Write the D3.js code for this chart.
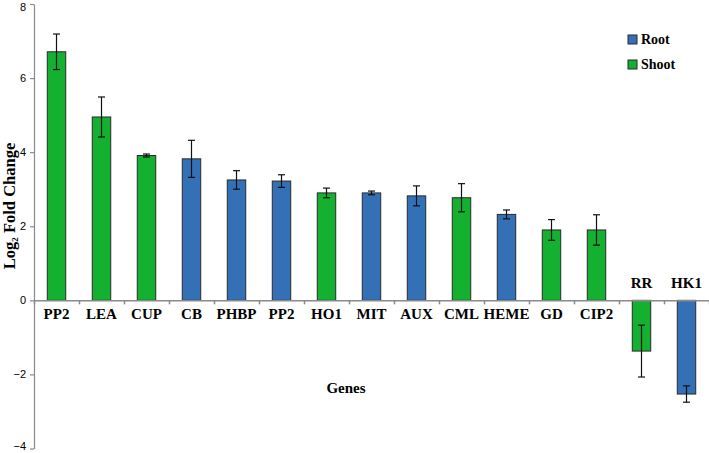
<!DOCTYPE html>
<html>
<head>
<meta charset="utf-8">
<script src="https://cdn.jsdelivr.net/npm/d3@7"></script>
<style>
  body { margin: 0; background: #fff; }
  svg { display: block; }
</style>
</head>
<body>
<svg id="chart" width="709" height="453"></svg>
<script>
// gene data
const genes = ['PP2', 'LEA', 'CUP', 'CB', 'PHBP', 'PP2', 'HO1', 'MIT', 'AUX', 'CML', 'HEME', 'GD', 'CIP2', 'RR', 'HK1'];
const tissue = ['Shoot', 'Shoot', 'Shoot', 'Root', 'Root', 'Root', 'Shoot', 'Root', 'Root', 'Shoot', 'Root', 'Shoot', 'Shoot', 'Shoot', 'Root'];
const foldChange = [6.71, 4.95, 3.91, 3.82, 3.25, 3.22, 2.90, 2.90, 2.82, 2.77, 2.32, 1.90, 1.90, -1.37, -2.53];
const errors = [0.48, 0.54, 0.04, 0.50, 0.25, 0.17, 0.13, 0.05, 0.27, 0.38, 0.12, 0.28, 0.41, 0.70, 0.22];
const yTicks = [-4, -2, 0, 2, 4, 6, 8];
const legendItems = ['Root', 'Shoot'];

const colors = { Root: '#3470b6', Shoot: '#13b12f' };
const serif = '"Liberation Serif", "Times New Roman", serif';

const svg = d3.select('#chart');

const x = d3.scaleBand()
  .domain(d3.range(genes.length))
  .range([34, 709])
  .paddingInner(0.59)
  .paddingOuter(0.295);

const xEdges = d3.scaleLinear()
  .domain([0, genes.length])
  .range([34, 709]);

const y = d3.scaleLinear()
  .domain([-4, 8])
  .range([448.5, 4]);

// y axis
const yAxis = svg.append('g')
  .attr('transform', 'translate(34,0)')
  .call(d3.axisLeft(y).tickValues(yTicks).tickSize(4).tickSizeOuter(0));
yAxis.selectAll('path, line').attr('stroke', '#8a8a8a').attr('stroke-width', 1.2);
yAxis.selectAll('text')
  .attr('font-family', '"Liberation Sans", Arial, sans-serif')
  .attr('font-size', 11)
  .attr('fill', '#000')
  .attr('x', -8)
  // keep the end labels inside the frame
  .attr('dy', d => d === 8 ? '0.55em' : d === -4 ? '0.1em' : '0.32em');

// bars
svg.append('g')
  .selectAll('rect')
  .data(foldChange)
  .join('rect')
  .attr('x', (d, i) => x(i))
  .attr('y', d => y(Math.max(0, d)))
  .attr('width', x.bandwidth())
  .attr('height', d => Math.abs(y(d) - y(0)))
  .attr('fill', (d, i) => colors[tissue[i]])
  .attr('stroke', '#2a2a2a')
  .attr('stroke-width', 1);

// x axis on zero, ticks on category edges
const xAxis = svg.append('g')
  .attr('transform', `translate(0,${y(0)})`)
  .call(d3.axisBottom(xEdges).ticks(genes.length).tickSize(4).tickSizeOuter(0).tickFormat(''));
xAxis.selectAll('path, line').attr('stroke', '#8a8a8a').attr('stroke-width', 1.5);

// error bars
const err = svg.append('g').attr('stroke', '#111').attr('stroke-width', 1.2);
const cx = i => x(i) + x.bandwidth() / 2;
err.selectAll('line.v')
  .data(foldChange)
  .join('line')
  .attr('class', 'v')
  .attr('x1', (d, i) => cx(i))
  .attr('x2', (d, i) => cx(i))
  .attr('y1', (d, i) => y(d + errors[i]))
  .attr('y2', (d, i) => y(d - errors[i]));
['top', 'bottom'].forEach(side => {
  err.selectAll('line.' + side)
    .data(foldChange)
    .join('line')
    .attr('class', side)
    .attr('x1', (d, i) => cx(i) - 3.5)
    .attr('x2', (d, i) => cx(i) + 3.5)
    .attr('y1', (d, i) => y(side === 'top' ? d + errors[i] : d - errors[i]))
    .attr('y2', (d, i) => y(side === 'top' ? d + errors[i] : d - errors[i]));
});

// gene labels
svg.append('g')
  .selectAll('text')
  .data(genes)
  .join('text')
  .attr('x', (d, i) => cx(i))
  .attr('y', (d, i) => foldChange[i] >= 0 ? y(0) + 19 : y(0) - 12)
  .attr('text-anchor', 'middle')
  .attr('font-family', serif)
  .attr('font-weight', 'bold')
  .attr('font-size', 15)
  .text(d => d);

// axis titles
svg.append('text')
  .attr('x', 346)
  .attr('y', 393)
  .attr('text-anchor', 'middle')
  .attr('font-family', serif)
  .attr('font-weight', 'bold')
  .attr('font-size', 15)
  .text('Genes');

const yTitle = svg.append('text')
  .attr('transform', 'translate(15,206) rotate(-90)')
  .attr('text-anchor', 'middle')
  .attr('font-family', serif)
  .attr('font-weight', 'bold')
  .attr('font-size', 16.5);
yTitle.append('tspan').text('Log');
yTitle.append('tspan').attr('font-size', 9).attr('dy', 3).text('2');
yTitle.append('tspan').attr('dy', -3).text(' Fold Change');

// legend
const legend = svg.append('g')
  .selectAll('g')
  .data(legendItems)
  .join('g')
  .attr('transform', (d, i) => `translate(628,${35 + i * 25})`);
legend.append('rect')
  .attr('width', 9)
  .attr('height', 9)
  .attr('fill', d => colors[d])
  .attr('stroke', '#2a2a2a')
  .attr('stroke-width', 1);
legend.append('text')
  .attr('x', 13)
  .attr('y', 9)
  .attr('font-family', serif)
  .attr('font-weight', 'bold')
  .attr('font-size', 14)
  .text(d => d);
</script>
</body>
</html>
